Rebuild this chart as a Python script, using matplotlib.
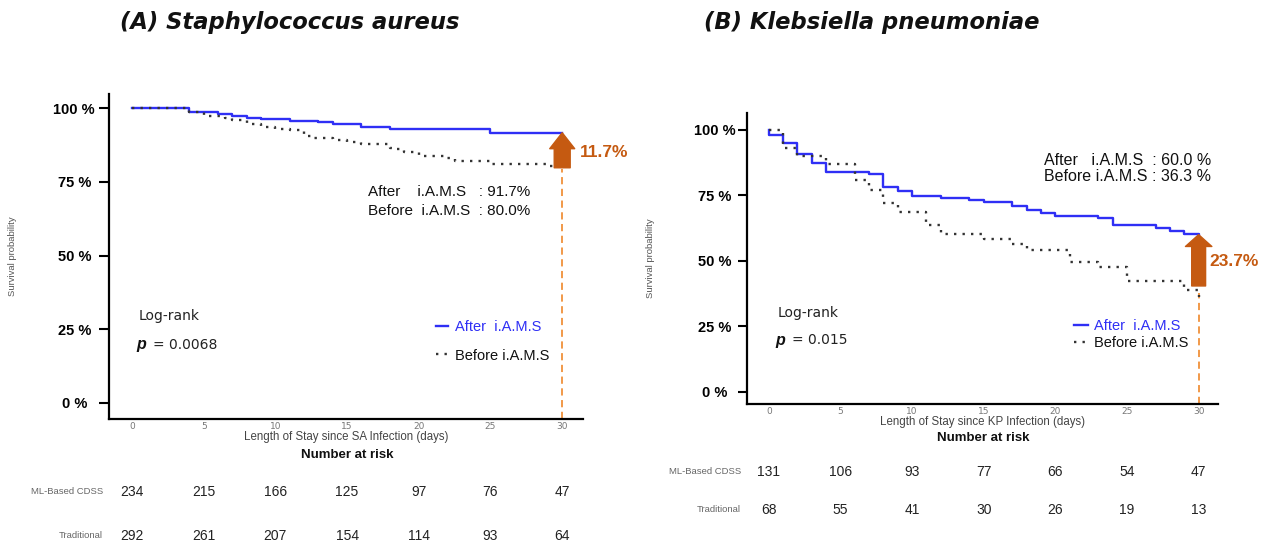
"""
Kaplan-Meier survival before / after i.A.M.S for two pathogens, with number-at-risk tables.
"""

import matplotlib
matplotlib.use("Agg")
import matplotlib.pyplot as plt
from matplotlib import transforms

W, H = 1265, 544

# ── data ────────────────────────────────────────────────────────────────────
days = [0, 5, 10, 15, 20, 25, 30]
y_ticks = [0, 25, 50, 75, 100]
y_tick_labels = ["0 %", "25 %", "50 %", "75 %", "100 %"]
row_labels = ["ML-Based CDSS", "Traditional"]
after_label = "After  i.A.M.S"
before_label = "Before i.A.M.S"

# (A) Staphylococcus aureus
sa_after_t = [0, 4, 6, 7, 8, 9, 11, 13, 14, 16, 18, 25, 30]
sa_after_s = [100, 98.7, 98.0, 97.4, 96.8, 96.3, 95.8, 95.2, 94.6, 93.7, 92.9, 91.7, 91.7]
sa_before_t = [0, 4, 5, 6.5, 7, 8, 9, 10, 11, 12, 12.5, 14, 15, 16, 18, 18.5, 19, 20, 22, 22.5, 25, 29, 30]
sa_before_s = [100, 98.7, 97.4, 96.7, 96.1, 94.8, 93.6, 93.1, 92.7, 90.6, 89.9, 89.1, 88.5, 87.8,
               86.6, 86.3, 85.1, 83.7, 83.1, 82.0, 81.0, 80.3, 80.0]
sa_risk_cdss = [234, 215, 166, 125, 97, 76, 47]
sa_risk_trad = [292, 261, 207, 154, 114, 93, 64]
sa_p = "0.0068"

# (B) Klebsiella pneumoniae
kp_after_t = [0, 0, 1, 2, 3, 4, 7, 8, 9, 10, 12, 14, 15, 17, 18, 19, 20, 23, 24, 27, 28, 29, 30]
kp_after_s = [100, 98.1, 94.9, 90.8, 87.3, 84.1, 83.2, 78.3, 76.8, 74.9, 74.1, 73.3, 72.4, 71.1,
              69.4, 68.2, 67.3, 66.3, 63.7, 62.7, 61.4, 60.1, 60.0]
kp_before_t = [0, 1, 2, 4, 6, 7, 8, 9, 11, 12, 15, 17, 18, 21, 23, 25, 29, 30]
kp_before_s = [100, 93.0, 89.9, 87.0, 80.7, 77.0, 72.0, 68.8, 63.7, 60.4, 58.3, 56.4, 54.1,
               49.7, 47.6, 42.3, 38.9, 36.3]
kp_risk_cdss = [131, 106, 93, 77, 66, 54, 47]
kp_risk_trad = [68, 55, 41, 30, 26, 19, 13]
kp_p = "0.015"

# ── styling ─────────────────────────────────────────────────────────────────
ARIAL = "Liberation Sans"

BLUE = "#2F2FF5"
DOTS = "#333333"
RUST = "#C55A11"
ORANGE = "#F0913A"
GREY = "#555555"


def px(x, y):
    """pixel position in the 1265x544 canvas -> figure fraction"""
    return x / W, 1 - y / H


def add_axes_px(fig, x0, y0, x1, y1):
    return fig.add_axes([x0 / W, 1 - y1 / H, (x1 - x0) / W, (y1 - y0) / H])


fig = plt.figure(figsize=(W / 100, H / 100), dpi=100)


def panel(ax, after_t, after_s, before_t, before_s, risk_cdss, risk_trad, p_value, bug,
          xlim, ylim, lay):
    ax.step(after_t, after_s, where="post", color=BLUE, lw=1.7, label=after_label)
    ax.step(before_t, before_s, where="post", color=DOTS, lw=1.7, ls=(0, (1, 2.6)),
            label=before_label)

    ax.set_xlim(*xlim)
    ax.set_ylim(*ylim)
    for side in ("top", "right"):
        ax.spines[side].set_visible(False)
    for side in ("left", "bottom"):
        ax.spines[side].set_linewidth(1.6)

    ax.set_yticks(y_ticks)
    ax.set_yticklabels(y_tick_labels, fontfamily=ARIAL, fontweight="bold",
                       fontsize=lay["ytick_fs"], ha="center")
    ax.tick_params(axis="y", length=lay["ytick_len"], width=1.5, pad=lay["ytick_pad"])
    ax.set_xticks(days)
    ax.tick_params(axis="x", length=0, pad=2, labelsize=6.5, labelcolor="#777777")

    ax.set_ylabel("Survival probability", fontsize=6.8, color=GREY, fontfamily=ARIAL)
    ax.yaxis.set_label_coords(lay["ylabel_x"], 0.5)
    ax.set_xlabel(f"Length of Stay since {bug} Infection (days)", fontsize=8.3,
                  color="#444444", fontfamily=ARIAL)
    ax.xaxis.set_label_coords(0.5, lay["xlabel_y"])

    # arrow + dashed drop line at the end of follow-up
    t_end = after_t[-1]
    ax.vlines(t_end, ylim[0], lay["dash_top"], color=ORANGE, lw=1.3, ls=(0, (4, 2.5)),
              zorder=1)
    ax.annotate("", xy=(t_end, after_s[-1]), xytext=(t_end, lay["arrow_base"]),
                arrowprops=dict(arrowstyle=lay["arrow_style"], mutation_scale=10,
                                color=RUST, shrinkA=0, shrinkB=0), zorder=4)
    ax.annotate(f"{after_s[-1] - before_s[-1]:.1f}%",
                xy=(t_end, lay["diff_y"]), xytext=(lay["diff_dx"], 0),
                textcoords="offset points", ha="left", va="center",
                fontsize=lay["diff_fs"], fontweight="bold", color=RUST,
                fontfamily=ARIAL, annotation_clip=False)

    # final survival summary
    fig.text(*px(*lay["summary_xy"]),
             f"{lay['after_fmt'].format(after_s[-1])}\n{lay['before_fmt'].format(before_s[-1])}",
             ha="left", va="center", fontsize=lay["summary_fs"], fontfamily=ARIAL,
             color="#111111", linespacing=lay["summary_ls"])

    # log-rank
    lx, ly = lay["logrank_xy"]
    fig.text(*px(lx, ly), "Log-rank", ha="left", va="center", fontsize=10, color="#222222")
    fig.text(*px(lx - 3, ly + lay["p_gap"]), "p", ha="left", va="center", fontsize=11.5,
             fontweight="bold", fontstyle="italic", color="#111111", fontfamily=ARIAL)
    fig.text(*px(lx + 14, ly + lay["p_gap"]), f"= {p_value}", ha="left", va="center",
             fontsize=10, color="#222222")

    # legend
    leg = ax.legend(loc="upper left", bbox_to_anchor=px(*lay["legend_xy"]),
                    bbox_transform=fig.transFigure, frameon=False, borderpad=0,
                    borderaxespad=0, handlelength=lay["handle_len"], handletextpad=0.45,
                    labelspacing=lay["leg_spacing"],
                    prop=dict(family=ARIAL, size=lay["leg_fs"]))
    leg.get_texts()[0].set_color(BLUE)
    leg.get_texts()[1].set_color("#111111")

    # number at risk table
    trans = transforms.blended_transform_factory(ax.transData, fig.transFigure)
    ax.text(15, 1 - lay["nar_y"] / H, "Number at risk", transform=trans, ha="center",
            va="center", fontsize=9.5, fontweight="bold", fontfamily=ARIAL, color="#111111")
    for row_y, label, counts in zip(lay["rows_y"], row_labels, (risk_cdss, risk_trad)):
        fy = 1 - row_y / H
        fig.text(lay["row_label_x"] / W, fy, label, ha="right", va="center", fontsize=6.8,
                 color="#666666", fontfamily=ARIAL)
        for d, n in zip(days, counts):
            ax.text(d, fy, str(n), transform=trans, ha="center", va="center",
                    fontsize=10, fontfamily=ARIAL, color="#222222")


# ── (A) S. aureus ───────────────────────────────────────────────────────────
ax1 = add_axes_px(fig, 109, 94, 583, 419.3)
panel(ax1, sa_after_t, sa_after_s, sa_before_t, sa_before_s, sa_risk_cdss, sa_risk_trad,
      sa_p, "SA", xlim=(-1.6, 31.45), ylim=(-5.6, 104.85),
      lay=dict(ytick_fs=10.5, ytick_len=7, ytick_pad=18, ylabel_x=-0.195, xlabel_y=-0.035,
               dash_top=79.5, arrow_base=79.8,
               arrow_style="simple,head_width=1.8,head_length=1.15,tail_width=1.15",
               diff_y=84.9, diff_dx=13, diff_fs=12.5,
               summary_xy=(368, 201.5), summary_fs=11, summary_ls=1.45,
               after_fmt="After    i.A.M.S   : {:.1f}%", before_fmt="Before  i.A.M.S  : {:.1f}%",
               logrank_xy=(139, 316), p_gap=29,
               legend_xy=(436, 320), handle_len=0.85, leg_spacing=1.0, leg_fs=10.5,
               nar_y=455, rows_y=(492, 536), row_label_x=103))

# ── (B) K. pneumoniae ───────────────────────────────────────────────────────
ax2 = add_axes_px(fig, 747, 112.7, 1218, 404)
panel(ax2, kp_after_t, kp_after_s, kp_before_t, kp_before_s, kp_risk_cdss, kp_risk_trad,
      kp_p, "KP", xlim=(-1.52, 31.35), ylim=(-4.7, 106.6),
      lay=dict(ytick_fs=10.5, ytick_len=6.5, ytick_pad=17, ylabel_x=-0.195, xlabel_y=-0.04,
               dash_top=37.6, arrow_base=40.4,
               arrow_style="simple,head_width=1.9,head_length=0.85,tail_width=1.0",
               diff_y=49.6, diff_dx=8, diff_fs=12.5,
               summary_xy=(1044, 168.5), summary_fs=11.5, summary_ls=1.1,
               after_fmt="After   i.A.M.S  : {:.1f} %", before_fmt="Before i.A.M.S : {:.1f} %",
               logrank_xy=(778, 313), p_gap=27,
               legend_xy=(1074, 319), handle_len=0.95, leg_spacing=0.2, leg_fs=10.5,
               nar_y=438, rows_y=(471.5, 510), row_label_x=741))

# ── titles ──────────────────────────────────────────────────────────────────
for cx, title in ((290, "(A) Staphylococcus aureus"), (872, "(B) Klebsiella pneumoniae")):
    fig.text(*px(cx, 22), title, ha="center", va="center", fontsize=16.3,
             fontweight="bold", fontstyle="italic", fontfamily="DejaVu Sans", color="#111111")

fig.savefig("out.png", dpi=100)
